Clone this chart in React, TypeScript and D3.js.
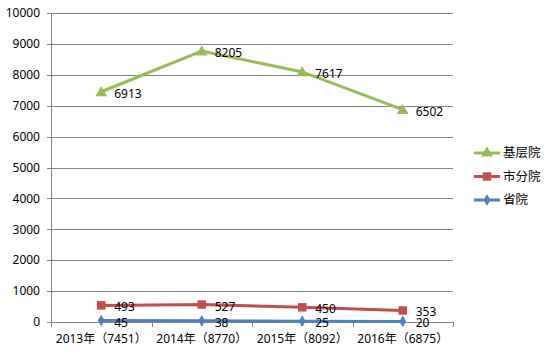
import { useRef, useEffect } from "react";
import * as d3 from "d3";

const categories = ["2013年（7451）", "2014年（8770）", "2015年（8092）", "2016年（6875）"];
const shengyuan = [45, 38, 25, 20];
const shifenyuan = [493, 527, 450, 353];
const jicengyuan = [6913, 8205, 7617, 6502];
const yTicks = [0, 1000, 2000, 3000, 4000, 5000, 6000, 7000, 8000, 9000, 10000];

const FONT = "'Noto Sans', 'Noto Sans CJK SC', sans-serif";

export default function App() {
  const svgRef = useRef<SVGSVGElement>(null);
  const width = 553;
  const height = 352;

  useEffect(() => {
    const svg = d3.select(svgRef.current);
    svg.selectAll("*").remove();

    const left = 51;
    const right = 453;
    const top = 13;
    const bottom = 322;

    const x = d3.scaleBand().domain(categories).range([left, right]);
    const y = d3.scaleLinear().domain([0, 10000]).range([bottom, top]);

    // stacked series, bottom to top
    const series = [
      { name: "省院", values: shengyuan, color: "#4F81BD", marker: "diamond" },
      { name: "市分院", values: shifenyuan, color: "#C0504D", marker: "square" },
      { name: "基层院", values: jicengyuan, color: "#9BBB59", marker: "triangle" },
    ];
    let acc = categories.map(() => 0);
    const stacked = series.map((s) => {
      acc = acc.map((a, i) => a + s.values[i]);
      return { ...s, totals: acc.slice() };
    });

    // grid lines
    svg
      .append("g")
      .selectAll("line")
      .data(yTicks)
      .enter()
      .append("line")
      .attr("x1", left - 4)
      .attr("x2", right)
      .attr("y1", (d) => Math.round(y(d)) + 0.5)
      .attr("y2", (d) => Math.round(y(d)) + 0.5)
      .attr("stroke", "#868686")
      .attr("stroke-width", 1);

    // y axis line
    svg
      .append("line")
      .attr("x1", left + 0.5)
      .attr("x2", left + 0.5)
      .attr("y1", top)
      .attr("y2", bottom)
      .attr("stroke", "#868686");

    // x ticks at band edges
    const edges = categories.map((c) => x(c)!).concat([right]);
    svg
      .append("g")
      .selectAll("line")
      .data(edges)
      .enter()
      .append("line")
      .attr("x1", (d) => Math.round(d) + 0.5)
      .attr("x2", (d) => Math.round(d) + 0.5)
      .attr("y1", bottom)
      .attr("y2", bottom + 5)
      .attr("stroke", "#868686");

    // y labels
    svg
      .append("g")
      .selectAll("text")
      .data(yTicks)
      .enter()
      .append("text")
      .attr("x", 40)
      .attr("y", (d) => y(d))
      .attr("dy", "0.35em")
      .attr("text-anchor", "end")
      .attr("font-size", 12)
      .attr("font-family", FONT)
      .attr("fill", "#000")
      .text((d) => d);

    // x labels
    svg
      .append("g")
      .selectAll("text")
      .data(categories)
      .enter()
      .append("text")
      .attr("x", (d) => x(d)! + x.bandwidth() / 2)
      .attr("y", 343)
      .attr("text-anchor", "middle")
      .attr("font-size", 12)
      .attr("font-family", FONT)
      .attr("fill", "#000")
      .text((d) => d);

    const cx = (i: number) => x(categories[i])! + x.bandwidth() / 2;

    const markerPath = (type: string) => {
      if (type === "triangle") return d3.symbol(d3.symbolTriangle, 60)();
      if (type === "square") return d3.symbol(d3.symbolSquare, 72)();
      return d3.symbol(d3.symbolDiamond, 40)();
    };

    const line = d3
      .line<number>()
      .x((_, i) => cx(i))
      .y((d) => y(d));

    stacked.forEach((s) => {
      svg
        .append("path")
        .datum(s.totals)
        .attr("fill", "none")
        .attr("stroke", s.color)
        .attr("stroke-width", 3)
        .attr("d", line);

      svg
        .append("g")
        .selectAll("path")
        .data(s.totals)
        .enter()
        .append("path")
        .attr("d", markerPath(s.marker))
        .attr("transform", (d, i) => `translate(${cx(i)},${y(d) + (s.marker === "triangle" ? 1 : 0)})`)
        .attr("fill", s.color);

      svg
        .append("g")
        .selectAll("text")
        .data(s.values)
        .enter()
        .append("text")
        .attr("x", (_, i) => cx(i) + 13)
        .attr("y", (_, i) => y(s.totals[i]) + 6)
        .attr("font-size", 12)
        .attr("font-family", FONT)
        .attr("fill", "#000")
        .text((d) => d);
    });

    // legend
    const legendItems = stacked.slice().reverse();
    const lg = svg.append("g").attr("transform", "translate(474,153)");
    legendItems.forEach((s, i) => {
      const row = lg.append("g").attr("transform", `translate(0,${i * 23.5})`);
      row
        .append("line")
        .attr("x1", 0)
        .attr("x2", 26)
        .attr("y1", 0)
        .attr("y2", 0)
        .attr("stroke", s.color)
        .attr("stroke-width", 3);
      row
        .append("path")
        .attr("d", markerPath(s.marker))
        .attr("transform", `translate(13,${s.marker === "triangle" ? 0 : 0})`)
        .attr("fill", s.color);
      row
        .append("text")
        .attr("x", 29)
        .attr("y", 0)
        .attr("dy", "0.35em")
        .attr("font-size", 12.5)
        .attr("font-family", FONT)
        .attr("fill", "#000")
        .text(s.name);
    });
  }, []);

  return (
    <svg
      ref={svgRef}
      width={width}
      height={height}
      style={{ position: "absolute", left: 0, top: 0, background: "#fff" }}
    ></svg>
  );
}
